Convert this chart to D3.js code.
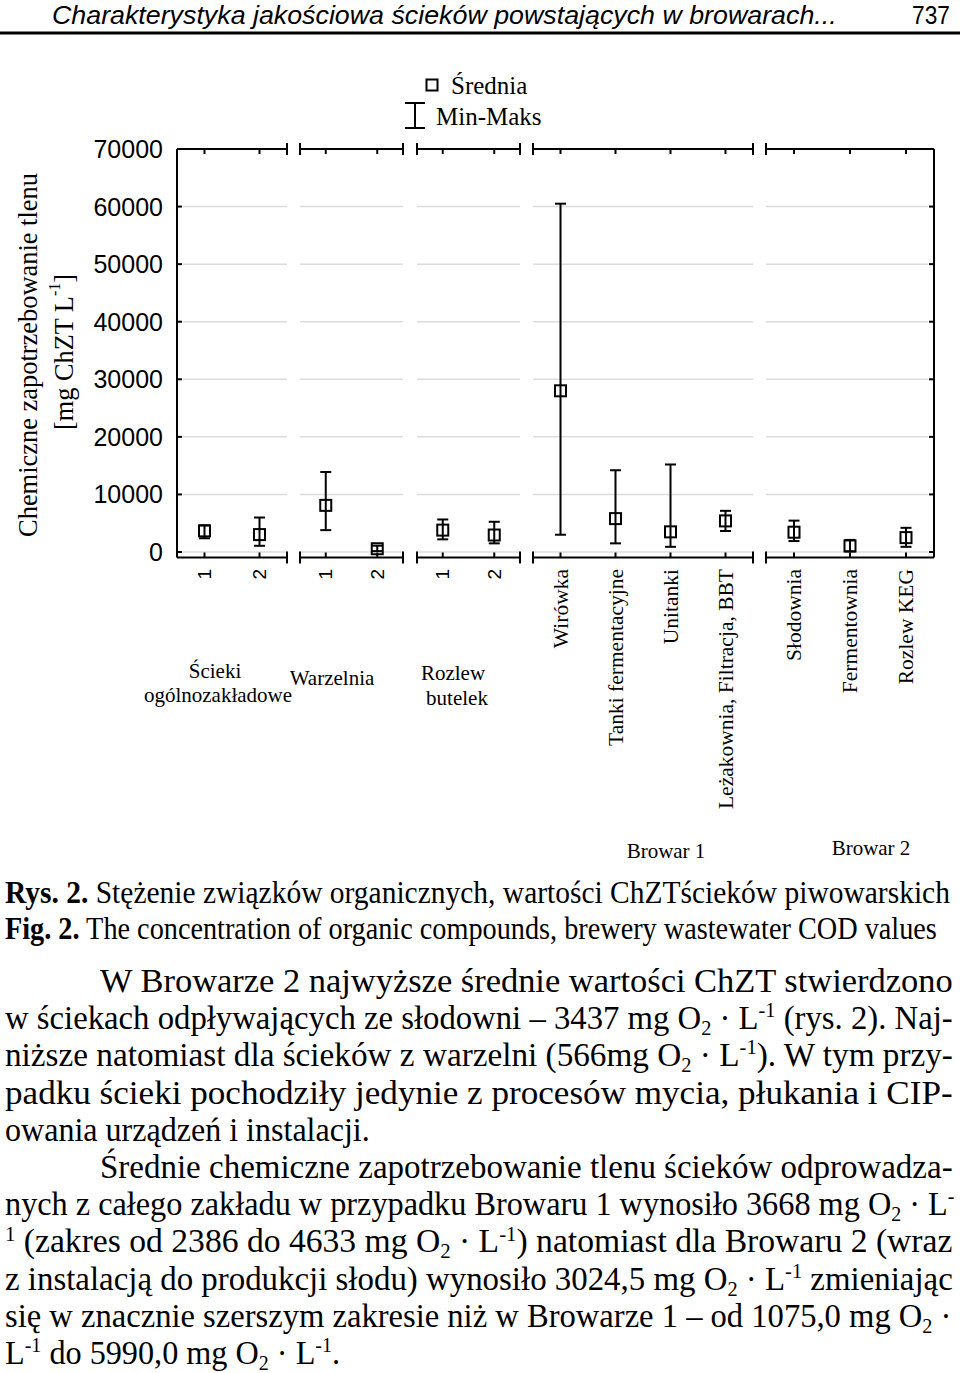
<!DOCTYPE html>
<html>
<head>
<meta charset="utf-8">
<script src="https://cdn.jsdelivr.net/npm/d3@7"></script>
<style>
  body { margin: 0; background: #fff; }
  svg { display: block; }
</style>
</head>
<body>
<div id="page"></div>
<script>
// values (mg ChZT / L)
var categories = ["1", "2", "1", "2", "1", "2", "Wirówka", "Tanki fermentacyjne", "Unitanki",
  "Leżakownia, Filtracja, BBT", "Słodownia", "Fermentownia", "Rozlew KEG"];
var groupIndex = [0, 0, 1, 1, 2, 2, 3, 3, 3, 3, 4, 4, 4];
var groupNames = [["Ścieki", "ogólnozakładowe"], ["Warzelnia"], ["Rozlew", "butelek"], ["Browar 1"], ["Browar 2"]];
var means = [3668, 3024.5, 8100, 566, 3800, 2950, 28000, 5800, 3500, 5400, 3437, 1050, 2500];
var mins  = [2386, 1075, 3800, 150, 2200, 1500, 3000, 1500, 900, 3650, 1900, 100, 900];
var maxs  = [4633, 5990, 13900, 1100, 5650, 5250, 60500, 14200, 15200, 7150, 5450, 2100, 4200];
var yTicks = [0, 10000, 20000, 30000, 40000, 50000, 60000, 70000];

var SERIF = "'Liberation Serif', 'Times New Roman', serif";
var SANS = "'Liberation Sans', Arial, sans-serif";
var NARROW = "'Liberation Sans Narrow', 'Liberation Sans', Arial, sans-serif";

var W = 960, H = 1373;
var svg = d3.select("#page").append("svg")
  .attr("width", W).attr("height", H);

// geometry of the plot
var leftX = 177, rightX = 934, topY = 149, bottomY = 557.5;
var segments = [[177, 287], [300, 403], [417, 520], [533, 753], [766, 934]];

var y = d3.scaleLinear().domain([0, 70000]).range([552, 149]);

// one band scale per group
var xs = segments.map(function(seg, g) {
  var idx = d3.range(categories.length).filter(function(i) { return groupIndex[i] === g; });
  return d3.scaleBand().domain(idx).range(seg).padding(0);
});
function cx(i) { var s = xs[groupIndex[i]]; return s(i) + s.bandwidth() / 2; }

// gridlines
segments.forEach(function(seg, g) {
  svg.append("g").selectAll("line")
    .data(yTicks.filter(function(t) { return t < 70000; }))
    .enter().append("line")
    .attr("x1", g === 0 ? seg[0] + 6 : seg[0])
    .attr("x2", g === 4 ? seg[1] - 6 : seg[1])
    .attr("y1", function(d) { return y(d); })
    .attr("y2", function(d) { return y(d); })
    .attr("stroke", "#dcdcdc").attr("stroke-width", 1.5);
});

// frame
var frame = svg.append("g").attr("stroke", "#000").attr("stroke-width", 2).attr("fill", "none");
frame.append("line").attr("x1", leftX).attr("x2", leftX).attr("y1", topY).attr("y2", bottomY);
frame.append("line").attr("x1", rightX).attr("x2", rightX).attr("y1", topY).attr("y2", bottomY);
segments.forEach(function(seg, g) {
  [topY, bottomY].forEach(function(yy) {
    frame.append("line").attr("x1", seg[0]).attr("x2", seg[1]).attr("y1", yy).attr("y2", yy);
    if (g > 0) frame.append("line").attr("x1", seg[0]).attr("x2", seg[0]).attr("y1", yy - 6).attr("y2", yy + 6);
    if (g < 4) frame.append("line").attr("x1", seg[1]).attr("x2", seg[1]).attr("y1", yy - 6).attr("y2", yy + 6);
  });
});
// category ticks (inward)
d3.range(categories.length).forEach(function(i) {
  frame.append("line").attr("x1", cx(i)).attr("x2", cx(i)).attr("y1", bottomY).attr("y2", bottomY - 5);
  frame.append("line").attr("x1", cx(i)).attr("x2", cx(i)).attr("y1", topY).attr("y2", topY + 5);
});
// y ticks (inward, both sides)
yTicks.forEach(function(t) {
  frame.append("line").attr("x1", leftX).attr("x2", leftX + 5).attr("y1", y(t)).attr("y2", y(t));
  frame.append("line").attr("x1", rightX).attr("x2", rightX - 5).attr("y1", y(t)).attr("y2", y(t));
});

// y tick labels
svg.append("g").selectAll("text").data(yTicks).enter().append("text")
  .attr("x", 163).attr("y", function(d) { return y(d); })
  .attr("text-anchor", "end").attr("dominant-baseline", "central")
  .attr("font-family", SANS).attr("font-size", 25)
  .text(function(d) { return d; });

// y axis title (squeezed to the length it has in the scan)
var yt = svg.append("g").attr("font-family", SERIF).attr("font-size", 28).attr("text-anchor", "middle");
var yt1 = yt.append("text").attr("dominant-baseline", "central").text("Chemiczne zapotrzebowanie tlenu");
yt1.attr("transform", "translate(28,355) rotate(-90) scale(" + (364 / yt1.node().getComputedTextLength()) + ",1)");
var yt2 = yt.append("text").attr("dominant-baseline", "central");
yt2.append("tspan").text("[mg ChZT L");
yt2.append("tspan").attr("font-size", 17).attr("baseline-shift", 10).text("-1");
yt2.append("tspan").text("]");
yt2.attr("transform", "translate(64,352) rotate(-90) scale(" + (156 / yt2.node().getComputedTextLength()) + ",1)");

// min-max whiskers and mean squares
var marks = svg.append("g").attr("stroke", "#000").attr("stroke-width", 2);
d3.range(categories.length).forEach(function(i) {
  var x = cx(i);
  marks.append("line").attr("x1", x).attr("x2", x).attr("y1", y(mins[i])).attr("y2", y(maxs[i]));
  marks.append("line").attr("x1", x - 5.5).attr("x2", x + 5.5).attr("y1", y(mins[i])).attr("y2", y(mins[i]));
  marks.append("line").attr("x1", x - 5.5).attr("x2", x + 5.5).attr("y1", y(maxs[i])).attr("y2", y(maxs[i]));
  marks.append("rect").attr("x", x - 5.5).attr("y", y(means[i]) - 5.5)
    .attr("width", 11).attr("height", 11).attr("fill", "none");
});

// category labels
svg.append("g").selectAll("text").data(categories).enter().append("text")
  .attr("transform", function(d, i) { return "translate(" + cx(i) + ",569) rotate(-90)"; })
  .attr("text-anchor", "end").attr("dominant-baseline", "central")
  .attr("font-family", function(d) { return d.length === 1 ? SANS : SERIF; })
  .attr("font-size", function(d) { return d.length === 1 ? 19 : 21.5; })
  .text(function(d) { return d; });

// group labels
var groupPos = [[[215, 678], [218, 702]], [[332, 685]], [[453, 680], [457, 705]], [[666, 858]], [[871, 855]]];
var gl = svg.append("g").attr("font-family", SERIF).attr("font-size", 21).attr("text-anchor", "middle");
groupNames.forEach(function(lines, g) {
  lines.forEach(function(s, k) {
    gl.append("text").attr("x", groupPos[g][k][0]).attr("y", groupPos[g][k][1]).text(s);
  });
});

// legend
var lg = svg.append("g");
lg.append("rect").attr("x", 426.5).attr("y", 79.5).attr("width", 11).attr("height", 11)
  .attr("fill", "none").attr("stroke", "#000").attr("stroke-width", 2);
lg.append("path").attr("d", "M405,103H425M415,103V128M405,128H425")
  .attr("fill", "none").attr("stroke", "#000").attr("stroke-width", 2);
lg.append("text").attr("x", 451).attr("y", 85).attr("dominant-baseline", "central")
  .attr("font-family", SERIF).attr("font-size", 25).text("Średnia");
lg.append("text").attr("x", 436).attr("y", 116).attr("dominant-baseline", "central")
  .attr("font-family", SERIF).attr("font-size", 25).text("Min-Maks");

// page text: each line is a list of [text, style], squeezed to the width it has in the scan
function textLine(parts, x0, x1, yy, family, size, italic) {
  var t = svg.append("text").attr("font-family", family).attr("font-size", size);
  if (italic) t.attr("font-style", "italic");
  parts.forEach(function(p) {
    var ts = t.append("tspan").text(p[0]);
    if (p[1] === "b") ts.attr("font-weight", "bold");
    if (p[1] === "sub") ts.attr("font-size", size * 0.62).attr("baseline-shift", -size * 0.18);
    if (p[1] === "sup") ts.attr("font-size", size * 0.62).attr("baseline-shift", size * 0.36);
  });
  var w = t.node().getComputedTextLength();
  t.attr("transform", "translate(" + x0 + "," + yy + ") scale(" + ((x1 - x0) / w) + ",1)");
  return t;
}

textLine([["Charakterystyka jakościowa ścieków powstających w browarach...", ""]], 52, 837, 24, NARROW, 26, true);
textLine([["737", ""]], 912, 950, 24, NARROW, 26, false);
svg.append("line").attr("x1", 0).attr("x2", W).attr("y1", 33).attr("y2", 33)
  .attr("stroke", "#000").attr("stroke-width", 3);

textLine([["Rys. 2.", "b"], [" Stężenie związków organicznych, wartości ChZTścieków piwowarskich", ""]], 5, 950, 903, SERIF, 31);
textLine([["Fig. 2.", "b"], [" The concentration of organic compounds, brewery wastewater COD values", ""]], 5, 937, 939, SERIF, 31);

var body = [
  [100, 953, [["W Browarze 2 najwyższe średnie wartości ChZT stwierdzono", ""]]],
  [5, 953, [["w ściekach odpływających ze słodowni – 3437 mg O", ""], ["2", "sub"], [" · L", ""], ["-1", "sup"], [" (rys. 2). Naj-", ""]]],
  [5, 953, [["niższe natomiast dla ścieków z warzelni (566mg O", ""], ["2", "sub"], [" · L", ""], ["-1", "sup"], ["). W tym przy-", ""]]],
  [5, 953, [["padku ścieki pochodziły jedynie z procesów mycia, płukania i CIP-", ""]]],
  [5, 370, [["owania urządzeń i instalacji.", ""]]],
  [100, 953, [["Średnie chemiczne zapotrzebowanie tlenu ścieków odprowadza-", ""]]],
  [5, 955, [["nych z całego zakładu w przypadku Browaru 1 wynosiło 3668 mg O", ""], ["2", "sub"], [" · L", ""], ["-", "sup"]]],
  [5, 953, [["1", "sup"], [" (zakres od 2386 do 4633 mg O", ""], ["2", "sub"], [" · L", ""], ["-1", "sup"], [") natomiast dla Browaru 2 (wraz", ""]]],
  [5, 953, [["z instalacją do produkcji słodu) wynosiło 3024,5 mg O", ""], ["2", "sub"], [" · L", ""], ["-1", "sup"], [" zmieniając", ""]]],
  [5, 952, [["się w znacznie szerszym zakresie niż w Browarze 1 – od 1075,0 mg O", ""], ["2", "sub"], [" ·", ""]]],
  [5, 340, [["L", ""], ["-1", "sup"], [" do 5990,0 mg O", ""], ["2", "sub"], [" · L", ""], ["-1", "sup"], [".", ""]]]
];
body.forEach(function(l, k) {
  textLine(l[2], l[0], l[1], 992 + k * 37.2, SERIF, 33);
});
</script>
</body>
</html>
